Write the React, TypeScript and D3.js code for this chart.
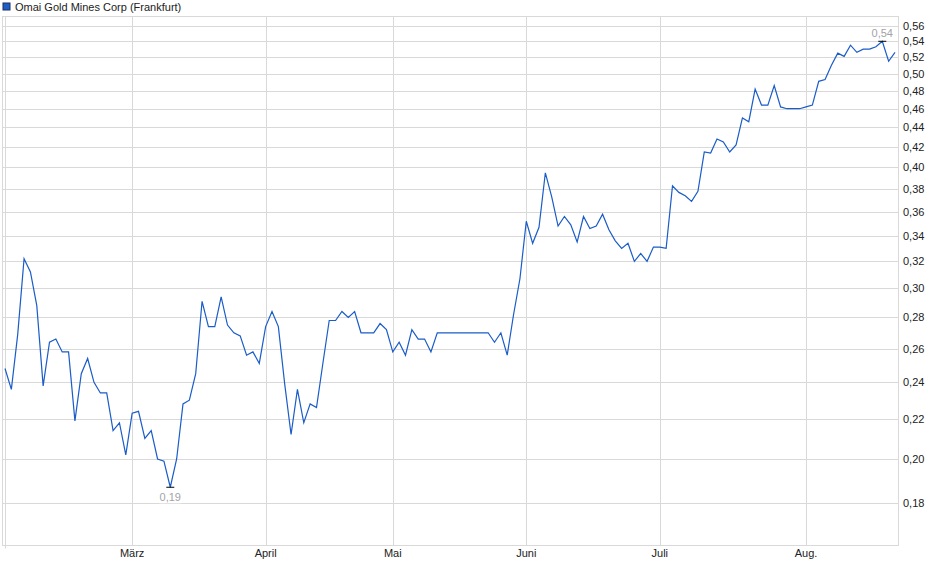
import React from "react";
import * as d3 from "d3";

// ---- data ----
const seriesName = "Omai Gold Mines Corp (Frankfurt)";
const prices: number[] = [
  0.248, 0.236, 0.269, 0.322, 0.312, 0.288, 0.238, 0.264, 0.266, 0.258,
  0.258, 0.219, 0.245, 0.254, 0.240, 0.234, 0.234, 0.214, 0.218, 0.202,
  0.223, 0.224, 0.210, 0.214, 0.200, 0.199, 0.187, 0.200, 0.228, 0.230,
  0.245, 0.291, 0.274, 0.274, 0.294, 0.275, 0.270, 0.268, 0.256, 0.258,
  0.251, 0.274, 0.284, 0.274, 0.239, 0.212, 0.236, 0.218, 0.228, 0.226,
  0.251, 0.278, 0.278, 0.284, 0.280, 0.284, 0.270, 0.270, 0.270, 0.276,
  0.272, 0.258, 0.264, 0.256, 0.272, 0.266, 0.266, 0.258, 0.270, 0.270,
  0.270, 0.270, 0.270, 0.270, 0.270, 0.270, 0.270, 0.264, 0.270, 0.256,
  0.282, 0.307, 0.352, 0.334, 0.347, 0.395, 0.373, 0.348, 0.356, 0.349,
  0.335, 0.356, 0.346, 0.348, 0.358, 0.345, 0.336, 0.330, 0.334, 0.320,
  0.326, 0.320, 0.331, 0.331, 0.330, 0.383, 0.377, 0.374, 0.369, 0.378,
  0.415, 0.414, 0.428, 0.425, 0.415, 0.422, 0.450, 0.446, 0.482, 0.464,
  0.464, 0.486, 0.462, 0.460, 0.460, 0.460, 0.462, 0.464, 0.491, 0.493,
  0.510, 0.525, 0.521, 0.535, 0.526, 0.530, 0.530, 0.533, 0.540, 0.515,
  0.526,
];
const monthIndex: number[] = [20, 41, 61, 82, 103, 126];
const monthLabels: string[] = ["März", "April", "Mai", "Juni", "Juli", "Aug."];
const yTicks: number[] = [
  0.18, 0.2, 0.22, 0.24, 0.26, 0.28, 0.3, 0.32, 0.34, 0.36, 0.38, 0.4, 0.42,
  0.44, 0.46, 0.48, 0.5, 0.52, 0.54, 0.56,
];

// ---- layout ----
const W = 940;
const H = 579;
const frame = { left: 2.5, right: 898.5, top: 16.5, bottom: 545.5 };
const FONT = "'Liberation Sans', Arial, sans-serif";
const GRID = "#d9d9d9";
const LINE = "#1a5cc8";
const NOTE = "#a3a3a8";

export default function App() {
  const x = d3.scaleLinear().domain([0, prices.length - 1]).range([5, 895]);
  const y = d3.scaleLog().domain([0.18, 0.56]).range([503.3, 26]);
  const fmt = (v: number) => d3.format(".2f")(v).replace(".", ",");

  const line = d3
    .line<number>()
    .x((_, i) => x(i))
    .y((d) => y(d));

  const minI = d3.minIndex(prices);
  const maxI = d3.maxIndex(prices);

  return (
    <svg
      width={W}
      height={H}
      style={{ position: "absolute", left: 0, top: 0, background: "#fff" }}
      fontFamily={FONT}
    >
      {/* legend */}
      <rect x={3} y={3} width={7} height={7} fill="#1f5fc4" stroke="#1a2f66" strokeWidth={1} />
      <text x={15} y={10.5} fontSize={11} fill="#222">
        {seriesName}
      </text>

      {/* horizontal grid + y labels */}
      {yTicks.map((t) => (
        <g key={t}>
          <line
            x1={frame.left}
            x2={frame.right}
            y1={Math.round(y(t)) + 0.5}
            y2={Math.round(y(t)) + 0.5}
            stroke={GRID}
            strokeWidth={1}
          />
          <text x={903} y={y(t)} dy="0.35em" fontSize={11} fill="#222">
            {fmt(t)}
          </text>
        </g>
      ))}

      {/* vertical grid at start */}
      <line x1={5.5} x2={5.5} y1={frame.top} y2={frame.bottom + 3} stroke={GRID} />

      {/* month grid + labels */}
      {monthIndex.map((mi, k) => (
        <g key={mi}>
          <line
            x1={Math.round(x(mi)) + 0.5}
            x2={Math.round(x(mi)) + 0.5}
            y1={frame.top}
            y2={frame.bottom}
            stroke={GRID}
          />
          <text
            x={x(mi)}
            y={553.5}
            dy="0.35em"
            fontSize={11}
            fill="#222"
            textAnchor="middle"
          >
            {monthLabels[k]}
          </text>
        </g>
      ))}

      {/* frame */}
      <rect
        x={frame.left}
        y={frame.top}
        width={frame.right - frame.left}
        height={frame.bottom - frame.top}
        fill="none"
        stroke={GRID}
      />

      {/* price line */}
      <path d={line(prices) || ""} fill="none" stroke={LINE} strokeWidth={1.2} />

      {/* min marker */}
      <line
        x1={x(minI) - 4}
        x2={x(minI) + 4}
        y1={y(prices[minI])}
        y2={y(prices[minI])}
        stroke="#000"
        strokeWidth={1}
      />
      <rect x={x(minI) - 11} y={y(prices[minI]) + 4} width={22} height={12} fill="#fff" />
      <text
        x={x(minI)}
        y={y(prices[minI]) + 10}
        dy="0.35em"
        fontSize={11}
        fill={NOTE}
        textAnchor="middle"
      >
        {fmt(prices[minI])}
      </text>

      {/* max marker */}
      <line
        x1={x(maxI) - 4}
        x2={x(maxI) + 4}
        y1={y(prices[maxI])}
        y2={y(prices[maxI])}
        stroke="#000"
        strokeWidth={1}
      />
      <text
        x={x(maxI)}
        y={y(prices[maxI]) - 8.5}
        dy="0.35em"
        fontSize={11}
        fill={NOTE}
        textAnchor="middle"
      >
        {fmt(prices[maxI])}
      </text>
    </svg>
  );
}
